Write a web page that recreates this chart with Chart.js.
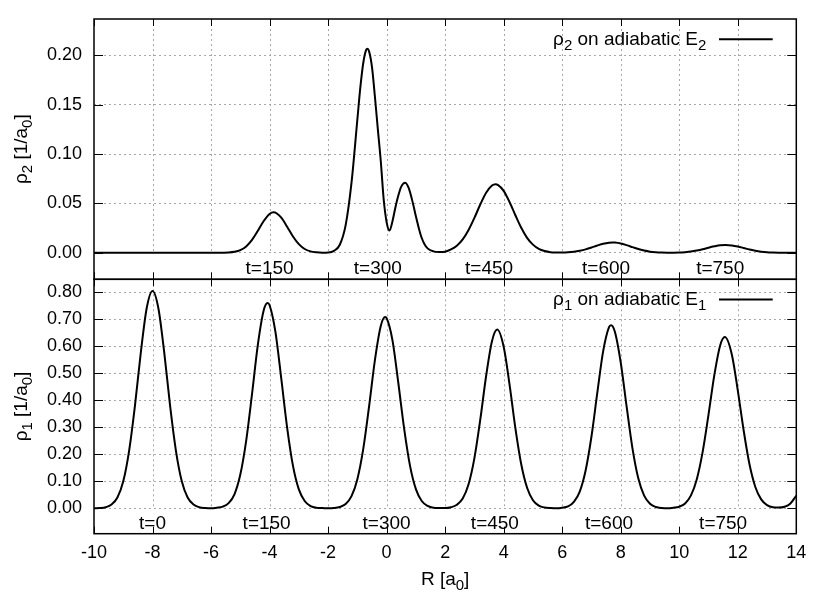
<!DOCTYPE html>
<html>
<head>
<meta charset="utf-8">
<script src="https://cdn.jsdelivr.net/npm/chart.js@4.4.1/dist/chart.umd.min.js"></script>
<style>
  body { margin: 0; background: #fff; }
  #wrap { position: relative; width: 830px; height: 594px; }
  #wrap canvas { position: absolute; left: 0; top: 0; }
</style>
</head>
<body>
<div id="wrap">
  <canvas id="lowerChart" width="830" height="594"></canvas>
  <canvas id="upperChart" width="830" height="594"></canvas>
</div>
<script>
// ---------- data ----------
const xTicks = [-10, -8, -6, -4, -2, 0, 2, 4, 6, 8, 10, 12, 14];
const yTicksUpper = [0, 0.05, 0.10, 0.15, 0.20];
const yTicksLower = [0, 0.1, 0.2, 0.3, 0.4, 0.5, 0.6, 0.7, 0.8];

// rho_1 on adiabatic E_1 (lower panel)
const rX1 = [-10, -9.8, -9.6, -9.4, -9.2, -9.0, -8.8, -8.6, -8.4, -8.2, -8.0, -7.8, -7.6, -7.4, -7.2, -7.0, -6.8, -6.6, -6.4, -6.2,
  -6.0, -5.8, -5.6, -5.4, -5.2, -5.0, -4.8, -4.6, -4.4, -4.2, -4.07, -4.0, -3.8, -3.6, -3.4, -3.2, -3.0, -2.8, -2.6, -2.4,
  -2.2, -2.0, -1.8, -1.6, -1.4, -1.2, -1.0, -0.8, -0.6, -0.4, -0.2, -0.05, 0.0, 0.2, 0.4, 0.6, 0.8, 1.0, 1.2, 1.4,
  1.6, 1.8, 2.0, 2.2, 2.4, 2.6, 2.8, 3.0, 3.2, 3.4, 3.6, 3.78, 4.0, 4.2, 4.4, 4.6, 4.8, 5.0, 5.2, 5.4,
  5.6, 5.8, 6.0, 6.2, 6.4, 6.6, 6.8, 7.0, 7.2, 7.4, 7.6, 7.67, 7.8, 8.0, 8.2, 8.4, 8.6, 8.8, 9.0, 9.2,
  9.4, 9.6, 9.8, 10.0, 10.2, 10.4, 10.6, 10.8, 11.0, 11.2, 11.4, 11.56, 11.8, 12.0, 12.2, 12.4, 12.6, 12.8, 13.0, 13.2,
  13.4, 13.6, 13.8, 14.0];
const rho1 = [0.000, 0.001, 0.004, 0.014, 0.040, 0.100, 0.213, 0.380, 0.577, 0.741, 0.805, 0.741, 0.577, 0.380, 0.213, 0.100, 0.040, 0.014, 0.004, 0.001,
  0.000, 0.002, 0.006, 0.019, 0.052, 0.125, 0.250, 0.423, 0.606, 0.733, 0.760, 0.752, 0.653, 0.480, 0.299, 0.157, 0.070, 0.027, 0.008, 0.002,
  0.001, 0.000, 0.001, 0.005, 0.016, 0.045, 0.108, 0.219, 0.377, 0.549, 0.675, 0.708, 0.704, 0.622, 0.464, 0.294, 0.157, 0.071, 0.027, 0.009,
  0.002, 0.001, 0.001, 0.004, 0.013, 0.036, 0.089, 0.186, 0.328, 0.490, 0.619, 0.662, 0.598, 0.459, 0.297, 0.163, 0.076, 0.030, 0.010, 0.003,
  0.001, 0.000, 0.002, 0.007, 0.024, 0.062, 0.140, 0.266, 0.428, 0.582, 0.671, 0.678, 0.654, 0.540, 0.378, 0.223, 0.111, 0.047, 0.017, 0.005,
  0.001, 0.000, 0.002, 0.006, 0.018, 0.048, 0.108, 0.209, 0.347, 0.494, 0.604, 0.634, 0.568, 0.437, 0.289, 0.163, 0.079, 0.033, 0.012, 0.004,
  0.003, 0.006, 0.018, 0.047];

// rho_2 on adiabatic E_2 (upper panel)
const rX2 = [-10, -6.0, -5.6, -5.4, -5.2, -5.0, -4.8, -4.6, -4.4, -4.2, -4.0, -3.86, -3.6, -3.4, -3.2, -3.0, -2.8, -2.6, -2.4, -2.2,
  -2.0, -1.8, -1.6, -1.4, -1.2, -1.0, -0.9, -0.8, -0.7, -0.66, -0.6, -0.5, -0.4, -0.3, -0.2, -0.1, 0.0, 0.1, 0.2, 0.3,
  0.4, 0.5, 0.63, 0.75, 0.9, 1.0, 1.1, 1.2, 1.3, 1.4, 1.6, 1.8, 2.0, 2.2, 2.4, 2.6, 2.8, 3.0, 3.2, 3.4,
  3.6, 3.72, 3.8, 4.0, 4.2, 4.4, 4.6, 4.8, 5.0, 5.2, 5.4, 5.6, 5.8, 6.0, 6.2, 6.4, 6.6, 6.8, 7.0, 7.2,
  7.4, 7.6, 7.72, 7.8, 8.0, 8.2, 8.4, 8.6, 8.8, 9.0, 9.2, 9.4, 9.6, 9.8, 10.0, 10.2, 10.4, 10.6, 10.8, 11.0,
  11.2, 11.4, 11.58, 11.8, 12.0, 12.2, 12.4, 12.6, 12.8, 13.0, 13.2, 13.4, 13.6, 14.0];
const rho2 = [0, 0, 0.0001, 0.0003, 0.0010, 0.0027, 0.0065, 0.0131, 0.0223, 0.0322, 0.0394, 0.0410, 0.0356, 0.0264, 0.0166, 0.0088, 0.0039, 0.0015, 0.0005, 0.0001,
  0.0003, 0.0020, 0.0082, 0.0280, 0.0710, 0.1350, 0.1670, 0.1920, 0.2055, 0.2066, 0.2040, 0.1880, 0.1580, 0.1250, 0.0930, 0.0540, 0.0310, 0.0225, 0.0320, 0.0460,
  0.0580, 0.0670, 0.0710, 0.0660, 0.0500, 0.0370, 0.0250, 0.0150, 0.0085, 0.0045, 0.0015, 0.0008, 0.0012, 0.0034, 0.0072, 0.0136, 0.0231, 0.0354, 0.0489, 0.0608,
  0.0682, 0.0695, 0.0689, 0.0628, 0.0515, 0.0381, 0.0254, 0.0152, 0.0083, 0.0040, 0.0018, 0.0007, 0.0004, 0.0003, 0.0005, 0.0011, 0.0021, 0.0035, 0.0054, 0.0074,
  0.0092, 0.0103, 0.0105, 0.0104, 0.0095, 0.0078, 0.0058, 0.0038, 0.0023, 0.0012, 0.0006, 0.0003, 0.0002, 0.0002, 0.0003, 0.0007, 0.0013, 0.0023, 0.0036, 0.0052,
  0.0066, 0.0077, 0.0080, 0.0075, 0.0064, 0.0049, 0.0033, 0.0021, 0.0012, 0.0006, 0.0003, 0.0001, 0, 0];

// time annotations under each panel
const tLabelsUpper = ['t=150', 't=300', 't=450', 't=600', 't=750'];
const tPosUpper = [-4.0, -0.3, 3.5, 7.5, 11.4];
const tLabelsLower = ['t=0', 't=150', 't=300', 't=450', 't=600', 't=750'];
const tPosLower = [-8.0, -4.1, 0.0, 3.7, 7.6, 11.5];

// ---------- drawing helpers ----------
const FONT = "'Liberation Sans', Arial, sans-serif";
const gridColor = '#a8a8a8';

function richWidth(ctx, parts, size) {
  let w = 0;
  parts.forEach(([t, sub]) => {
    ctx.font = (sub ? Math.round(size * 0.78) : size) + 'px ' + FONT;
    w += ctx.measureText(t).width;
  });
  return w;
}
function drawRich(ctx, parts, x, y, size, align) {
  const w = richWidth(ctx, parts, size);
  let cx = align === 'right' ? x - w : align === 'center' ? x - w / 2 : x;
  ctx.textAlign = 'left';
  ctx.textBaseline = 'alphabetic';
  ctx.fillStyle = '#000';
  parts.forEach(([t, sub]) => {
    ctx.font = (sub ? Math.round(size * 0.78) : size) + 'px ' + FONT;
    ctx.fillText(t, cx, y + (sub ? 5 : 0));
    cx += ctx.measureText(t).width;
  });
}

const panelPlugin = {
  id: 'panel',
  beforeDatasetsDraw(chart, args, opts) {
    const {ctx, chartArea: a} = chart;
    const x = chart.scales.x, y = chart.scales.y;
    const y0 = y.getPixelForValue(0);
    ctx.save();
    ctx.strokeStyle = gridColor;
    ctx.lineWidth = 1;
    ctx.setLineDash([2, 3]);
    xTicks.slice(1, -1).forEach(v => {
      const px = Math.round(x.getPixelForValue(v)) + 0.5;
      ctx.beginPath();
      ctx.moveTo(px, a.top);
      ctx.lineTo(px, y0);
      ctx.stroke();
    });
    ctx.restore();
  },
  afterDraw(chart, args, opts) {
    const {ctx, chartArea: a} = chart;
    const x = chart.scales.x, y = chart.scales.y;
    ctx.save();
    // inward tick marks on all four sides
    ctx.strokeStyle = '#000';
    ctx.lineWidth = 1;
    xTicks.forEach(v => {
      const px = Math.round(x.getPixelForValue(v)) + 0.5;
      ctx.beginPath();
      ctx.moveTo(px, a.top); ctx.lineTo(px, a.top + 7);
      ctx.moveTo(px, a.bottom); ctx.lineTo(px, a.bottom - 7);
      ctx.stroke();
    });
    opts.yTicks.forEach(v => {
      const py = Math.round(y.getPixelForValue(v)) + 0.5;
      ctx.beginPath();
      ctx.moveTo(a.left, py); ctx.lineTo(a.left + 9, py);
      ctx.moveTo(a.right, py); ctx.lineTo(a.right - 9, py);
      ctx.stroke();
    });
    // frame
    ctx.lineWidth = 1.5;
    ctx.strokeRect(a.left, a.top, a.right - a.left, a.bottom - a.top);

    // time labels in the strip below zero
    ctx.fillStyle = '#000';
    ctx.font = '19px ' + FONT;
    ctx.textAlign = 'center';
    ctx.textBaseline = 'alphabetic';
    opts.tLabels.forEach((t, i) => {
      ctx.fillText(t, x.getPixelForValue(opts.tPos[i]), a.bottom - 5);
    });

    // key
    const ly = a.top + 20.3;
    drawRich(ctx, opts.key, a.right - 90, ly + 5.7, 19, 'right');
    ctx.lineWidth = 2;
    ctx.beginPath();
    ctx.moveTo(a.right - 77.3, ly);
    ctx.lineTo(a.right - 23.6, ly);
    ctx.stroke();

    // y title, rotated
    ctx.save();
    ctx.translate(27, (a.top + a.bottom) / 2);
    ctx.rotate(-Math.PI / 2);
    drawRich(ctx, opts.yTitle, 0, 0, 19, 'center');
    ctx.restore();

    if (opts.xTitle) {
      drawRich(ctx, opts.xTitle, (a.left + a.right) / 2, 585, 19, 'center');
    }
    ctx.restore();
  }
};

function pts(xs, ys) {
  return xs.map((v, i) => ({x: v, y: ys[i]}));
}

function makeChart(canvasId, series, yMin, yMax, yTicks, tickFmt, panelOpts, showX, padding) {
  return new Chart(document.getElementById(canvasId).getContext('2d'), {
    type: 'line',
    data: {
      datasets: [{
        data: series,
        borderColor: '#000',
        borderWidth: 2,
        pointRadius: 0,
        fill: false,
        cubicInterpolationMode: 'monotone'
      }]
    },
    options: {
      responsive: false,
      animation: false,
      devicePixelRatio: 1,
      layout: {padding: padding},
      plugins: {
        legend: {display: false},
        tooltip: {enabled: false},
        panel: panelOpts
      },
      scales: {
        x: {
          type: 'linear',
          min: -10,
          max: 14,
          display: showX,
          afterBuildTicks: s => { s.ticks = xTicks.map(v => ({value: v})); },
          afterFit: s => {
            if (showX) s.height = 60.3;
            s.paddingLeft = 0; s.paddingRight = 0;
          },
          grid: {display: false, drawTicks: false},
          border: {display: false},
          ticks: {
            color: '#000',
            font: {family: FONT, size: 18},
            padding: 9,
            maxRotation: 0,
            autoSkip: false,
            callback: v => String(v)
          }
        },
        y: {
          type: 'linear',
          min: yMin,
          max: yMax,
          afterBuildTicks: s => { s.ticks = yTicks.map(v => ({value: v})); },
          afterFit: s => {
            s.width = 94;
            s.paddingTop = 0; s.paddingBottom = 0;
          },
          grid: {color: gridColor, lineWidth: 1, drawTicks: false},
          border: {display: false, dash: [2, 3]},
          ticks: {
            color: '#000',
            font: {family: FONT, size: 18},
            padding: 12,
            callback: v => v.toFixed(tickFmt)
          }
        }
      }
    },
    plugins: [panelPlugin]
  });
}

makeChart('upperChart', pts(rX2, rho2), -0.0268, 0.2368, yTicksUpper, 2, {
  yTicks: yTicksUpper,
  tLabels: tLabelsUpper,
  tPos: tPosUpper,
  key: [['ρ', 0], ['2', 1], [' on adiabatic E', 0], ['2', 1]],
  yTitle: [['ρ', 0], ['2', 1], [' [1/a', 0], ['0', 1], [']', 0]]
}, false, {left: 0, right: 33.7, top: 19, bottom: 314.7});

makeChart('lowerChart', pts(rX1, rho1), -0.094, 0.848, yTicksLower, 2, {
  yTicks: yTicksLower,
  tLabels: tLabelsLower,
  tPos: tPosLower,
  key: [['ρ', 0], ['1', 1], [' on adiabatic E', 0], ['1', 1]],
  yTitle: [['ρ', 0], ['1', 1], [' [1/a', 0], ['0', 1], [']', 0]],
  xTitle: [['R [a', 0], ['0', 1], [']', 0]]
}, true, {left: 0, right: 33.7, top: 279.3, bottom: 0});
</script>
</body>
</html>
